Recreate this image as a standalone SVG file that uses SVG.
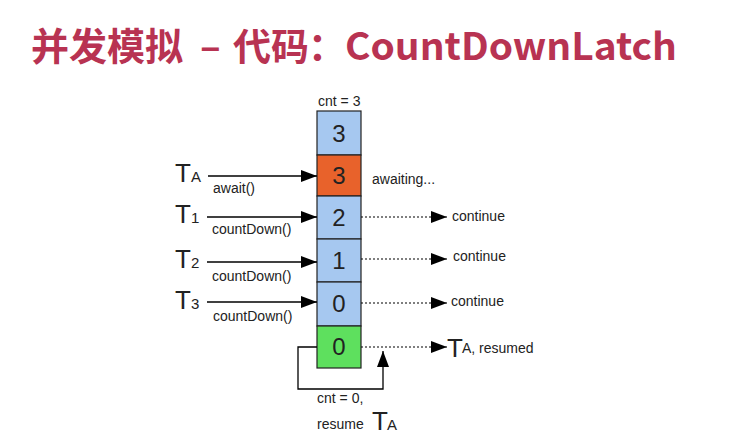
<svg xmlns="http://www.w3.org/2000/svg" width="750" height="442" viewBox="0 0 750 442">
<defs>
<style>
.title{font-family:"Noto Sans CJK SC","Noto Sans",sans-serif;font-weight:bold;font-size:38px;fill:#B83352}
.lbl{font-family:"Liberation Sans",Arial,sans-serif;font-size:14px;fill:#222}
.big{font-family:"Liberation Sans",Arial,sans-serif;font-size:26px;fill:#222}
.sub{font-family:"Liberation Sans",Arial,sans-serif;font-size:15px;fill:#222}
.dig{font-family:"Liberation Sans",Arial,sans-serif;font-size:24px;fill:#222;text-anchor:middle}
.cell{stroke:#222;stroke-width:1.2}
.solid{stroke:#000;stroke-width:1.3;fill:none}
.dot{stroke:#000;stroke-width:1.2;fill:none;stroke-dasharray:2,2}
</style>
<marker id="ah" viewBox="0 0 16 12" refX="16" refY="6" markerWidth="16" markerHeight="12" markerUnits="userSpaceOnUse" orient="auto">
<path d="M0,0 L16,6 L0,12 Z" fill="#000"/>
</marker>
</defs>
<rect width="750" height="442" fill="#fff"/>
<g id="title">
<text class="title" x="31" y="60">并发模拟</text>
<text class="title" x="200" y="60">–</text>
<text class="title" x="233" y="60">代码</text>
<text class="title" x="308" y="60">：</text>
<text class="title" x="345" y="60" textLength="332" lengthAdjust="spacingAndGlyphs">CountDownLatch</text>
</g>
<g id="stack">
<text class="lbl" x="318" y="106">cnt = 3</text>
<g id="c0"><rect class="cell" x="317" y="111" width="44" height="44" fill="#A6C8F0"/><text class="dig" x="339" y="142">3</text></g>
<g id="c1"><rect class="cell" x="317" y="155" width="44" height="41" fill="#E8622B"/><text class="dig" x="339" y="184">3</text></g>
<g id="c2"><rect class="cell" x="317" y="196" width="44" height="43" fill="#A6C8F0"/><text class="dig" x="339" y="226">2</text></g>
<g id="c3"><rect class="cell" x="317" y="239" width="44" height="43" fill="#A6C8F0"/><text class="dig" x="339" y="269">1</text></g>
<g id="c4"><rect class="cell" x="317" y="282" width="44" height="44" fill="#A6C8F0"/><text class="dig" x="339" y="312">0</text></g>
<g id="c5"><rect class="cell" x="317" y="326" width="44" height="42" fill="#5EE05E"/><text class="dig" x="339" y="355">0</text></g>
</g>
<g id="threads">
<g id="TA"><text class="big" x="175" y="182">T</text><text class="sub" x="191" y="182">A</text><text class="lbl" x="213" y="193">await()</text></g>
<g id="T1"><text class="big" x="175" y="223">T</text><text class="sub" x="191" y="223">1</text><text class="lbl" x="212" y="234">countDown()</text></g>
<g id="T2"><text class="big" x="175" y="268">T</text><text class="sub" x="191" y="268">2</text><text class="lbl" x="212" y="281">countDown()</text></g>
<g id="T3"><text class="big" x="175" y="309">T</text><text class="sub" x="191" y="309">3</text><text class="lbl" x="213" y="321">countDown()</text></g>
</g>
<g id="outputs">
<text class="lbl" x="372" y="184">awaiting...</text>
<text class="lbl" x="452" y="221">continue</text>
<text class="lbl" x="453" y="261">continue</text>
<text class="lbl" x="451" y="306">continue</text>
<g id="TAres"><text class="big" x="447" y="357">T</text><text class="lbl" x="462" y="353">A, resumed</text></g>
<g id="resume"><text class="lbl" x="317" y="403">cnt = 0,</text><text class="lbl" x="317" y="429">resume</text><text class="big" x="372" y="430">T</text><text class="sub" x="387" y="430">A</text></g>
</g>
<g id="connectors">
<line class="solid" x1="208" y1="176" x2="317" y2="176" marker-end="url(#ah)"/>
<line class="solid" x1="207" y1="217" x2="317" y2="217" marker-end="url(#ah)"/>
<line class="solid" x1="207" y1="262" x2="317" y2="262" marker-end="url(#ah)"/>
<line class="solid" x1="207" y1="302" x2="317" y2="302" marker-end="url(#ah)"/>
<line class="dot" x1="361" y1="217" x2="447" y2="217" marker-end="url(#ah)"/>
<line class="dot" x1="361" y1="259" x2="447" y2="259" marker-end="url(#ah)"/>
<line class="dot" x1="361" y1="303" x2="447" y2="303" marker-end="url(#ah)"/>
<line class="dot" x1="361" y1="347" x2="447" y2="347" marker-end="url(#ah)"/>
<polyline class="solid" points="317,347 298,347 298,389 383,389 383,351" marker-end="url(#ah)"/>
</g>
</svg>
